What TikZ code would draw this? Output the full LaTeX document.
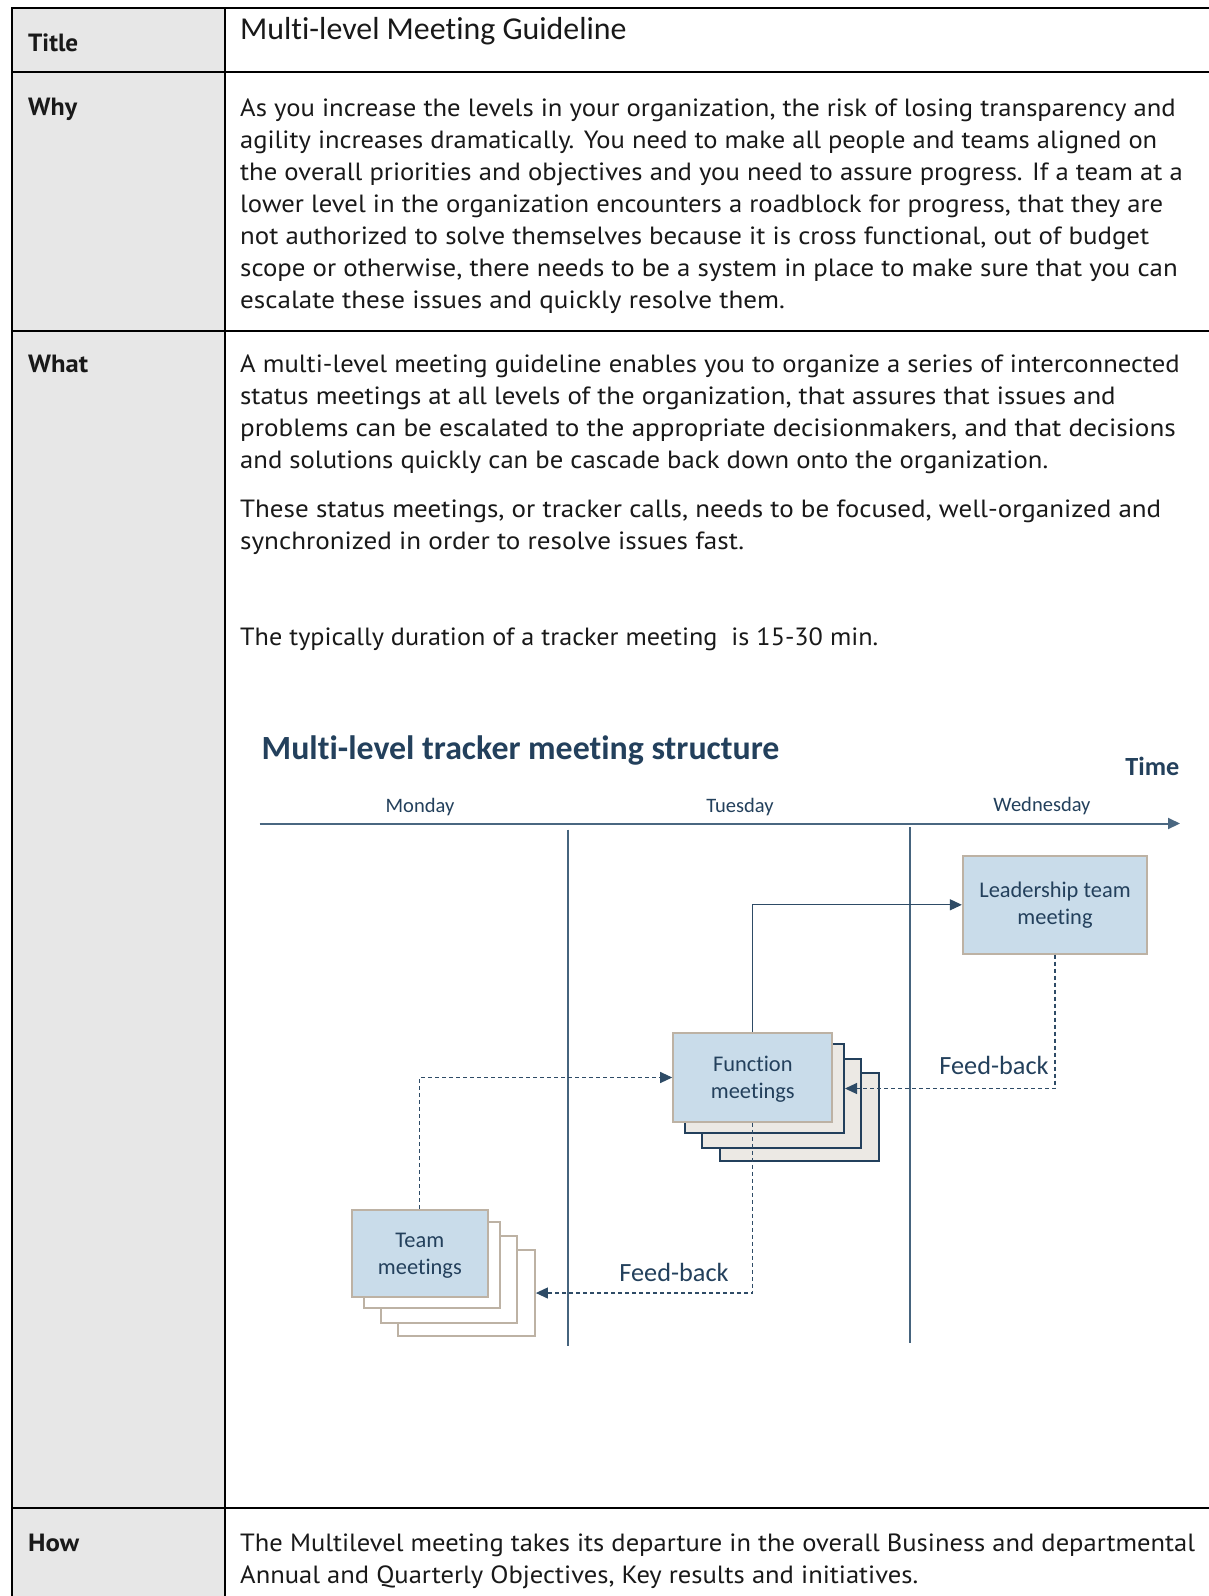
\documentclass[tikz,border=0pt]{standalone}
\usepackage{fontspec}
\usepackage{graphicx}
\setmainfont{PT Sans}
\newfontfamily\calfont[Ligatures=NoCommon]{Carlito}
\usetikzlibrary{arrows.meta}
\definecolor{navy}{HTML}{23405C}
\definecolor{connc}{HTML}{2E4B66}
\definecolor{sepc}{HTML}{46647E}
\definecolor{axisc}{HTML}{4A6781}
\definecolor{boxfill}{HTML}{C9DCEA}
\definecolor{tan}{HTML}{BDB2A4}
\definecolor{backfill}{HTML}{ECE9E4}
\definecolor{labgray}{HTML}{E7E7E7}
\newcommand\fitw[2]{\resizebox{#1bp}{\height}{#2}}
\tikzset{
  tabline/.style={line width=2.3bp, black},
  bodyline/.style={anchor=base west, inner sep=0pt, text=black!90, font=\fontsize{25}{30}\selectfont},
  lab/.style={anchor=base west, inner sep=0pt, text=black!90, font=\bfseries\fontsize{25}{30}\selectfont},
  daylab/.style={anchor=base, inner sep=0pt, text=navy, font=\calfont\fontsize{20.6}{24}\selectfont},
  fbk/.style={anchor=base, inner sep=0pt, text=navy, font=\calfont\fontsize{26.4}{30}\selectfont},
  frontbox/.style={draw=tan, line width=2.2bp, fill=boxfill, inner sep=0pt},
  boxtext/.style={inner sep=0pt, align=center, text=navy, font=\calfont\fontsize{22.5}{27}\selectfont},
  fnback/.style={draw=navy, line width=2bp, fill=backfill, inner sep=0pt, minimum width=159bp, minimum height=88.5bp},
  tmback/.style={draw=tan, line width=2bp, fill=white, inner sep=0pt, minimum width=136.5bp, minimum height=86.5bp},
  tip/.style={-{Triangle[length=12bp,width=11bp]}},
  dashconn/.style={tip, draw=connc, line width=1.2bp, dash pattern=on 4bp off 3bp, color=connc},
  solidconn/.style={tip, draw=connc, line width=1.2bp, color=connc},
  sepline/.style={draw=sepc, line width=1.5bp},
}
\begin{document}
\begin{tikzpicture}[x=1bp,y=-1bp]
\useasboundingbox (0,0) rectangle (1208,1596);
\fill[white] (0,0) rectangle (1208,1596);
% table
\fill[labgray] (12,8) rectangle (225,1596);
\draw[tabline] (12,1598) -- (12,8) -- (1210,8);
\draw[tabline] (225,8) -- (225,1598);
\draw[tabline] (12,72) -- (1210,72);
\draw[tabline] (12,331) -- (1210,331);
\draw[tabline] (12,1508) -- (1210,1508);
% labels
\node[lab] (ltitle) at (28,52) {\fitw{50}{Title}};
\node[lab] (lwhy) at (28,116) {\fitw{49}{Why}};
\node[lab] (lwhat) at (28,372) {\fitw{60}{What}};
\node[lab] (lhow) at (28,1551.5) {\fitw{51}{How}};
% title
\node[anchor=base west, inner sep=0pt, text=black!90, font=\calfont\fontsize{32}{36}\selectfont] (ttl) at (240,40) {Multi-level Meeting Guideline};
% why
\node[bodyline] (w1) at (240,116.5) {\fitw{935.5}{As you increase the levels in your organization, the risk of losing transparency and}};
\node[bodyline] (w2) at (240,148.5) {\fitw{917}{agility increases dramatically. You need to make all people and teams aligned on}};
\node[bodyline] (w3) at (240,180.5) {\fitw{942.6}{the overall priorities and objectives and you need to assure progress. If a team at a}};
\node[bodyline] (w4) at (240,212.5) {\fitw{923}{lower level in the organization encounters a roadblock for progress, that they are}};
\node[bodyline] (w5) at (240,244.5) {\fitw{909}{not authorized to solve themselves because it is cross functional, out of budget}};
\node[bodyline] (w6) at (240,276.5) {\fitw{937.5}{scope or otherwise, there needs to be a system in place to make sure that you can}};
\node[bodyline] (w7) at (240,308.5) {\fitw{544.6}{escalate these issues and quickly resolve them.}};
% what
\node[bodyline] (h1) at (240,372.5) {\fitw{939.5}{A multi-level meeting guideline enables you to organize a series of interconnected}};
\node[bodyline] (h2) at (240,404.5) {\fitw{875.4}{status meetings at all levels of the organization, that assures that issues and}};
\node[bodyline] (h3) at (240,436.5) {\fitw{935.5}{problems can be escalated to the appropriate decisionmakers, and that decisions}};
\node[bodyline] (h4) at (240,468.5) {\fitw{808}{and solutions quickly can be cascade back down onto the organization.}};
\node[bodyline] (h5) at (240,517.5) {\fitw{921}{These status meetings, or tracker calls, needs to be focused, well-organized and}};
\node[bodyline] (h6) at (240,549.5) {\fitw{504}{synchronized in order to resolve issues fast.}};
\node[bodyline] (h7) at (240,645.5) {\fitw{638}{The typically duration of a tracker meeting~ is 15-30 min.}};
% how
\node[bodyline] (o1) at (240,1551.5) {\fitw{954.8}{The Multilevel meeting takes its departure in the overall Business and departmental}};
\node[bodyline] (o2) at (240,1583.5) {\fitw{678}{Annual and Quarterly Objectives, Key results and initiatives.}};
% diagram
\node[anchor=base west, inner sep=0pt, text=navy, font=\calfont\bfseries\fontsize{34}{40}\selectfont] (dtitle) at (261.5,759) {Multi-level tracker meeting structure};
\node[anchor=base east, inner sep=0pt, text=navy, font=\calfont\bfseries\fontsize{26.3}{30}\selectfont] (time) at (1179.5,775) {Time};
\node[daylab] (mon) at (420,812) {Monday};
\node[daylab] (tue) at (740,812) {Tuesday};
\node[daylab] (wed) at (1042,811) {Wednesday};
\coordinate (ax0) at (259.5,823.5);
\coordinate (ax1) at (1180,823.5);
\draw[tip, draw=axisc, line width=2bp, color=axisc] (ax0) -- (ax1);
\coordinate (s1a) at (568,829.5);
\coordinate (s1b) at (568,1345.5);
\coordinate (s2a) at (910,827);
\coordinate (s2b) at (910,1343);
\draw[sepline] (s1a) -- (s1b);
\draw[sepline] (s2a) -- (s2b);
% function stack
\node[fnback] (f3) at (799.35,1117) {};
\node[fnback] (f2) at (781.5,1103.3) {};
\node[fnback] (f1) at (764.5,1088.5) {};
\node[frontbox, minimum width=159bp, minimum height=88.4bp] (fm) at (752.8,1077.5) {};
\node[boxtext] (fmt) at ([yshift=-2bp]fm.center) {Function\\meetings};
% team stack
\node[tmback] (t3) at (466.65,1293) {};
\node[tmback] (t2) at (449,1279.35) {};
\node[tmback] (t1) at (431.85,1265) {};
\node[frontbox, minimum width=136.3bp, minimum height=86.7bp] (tm) at (419.85,1253.35) {};
\node[boxtext] (tmt) at ([yshift=-2bp]tm.center) {Team\\meetings};
% leadership
\node[frontbox, minimum width=184bp, minimum height=97.6bp] (lt) at (1055,904.8) {};
\node[boxtext] (ltt) at ([yshift=-0.5bp]lt.center) {Leadership team\\meeting};
% connectors
\draw[dashconn] (tm.north) |- (fm.west);
\draw[solidconn] (fm.north) |- (lt.west);
\draw[dashconn] (lt.south) |- (f1.east);
\draw[dashconn] (fm.south) |- (t3.east);
\node[fbk] (fb1) at (994,1074) {Feed-back};
\node[fbk] (fb2) at (674,1281.7) {Feed-back};
\end{tikzpicture}
\end{document}
